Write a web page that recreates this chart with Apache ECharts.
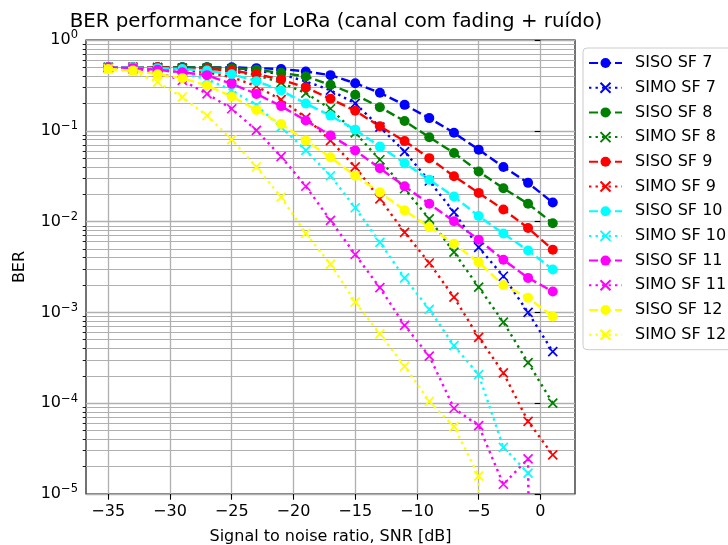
<!DOCTYPE html>
<html>
<head>
<meta charset="utf-8">
<script src="https://cdn.jsdelivr.net/npm/echarts@6/dist/echarts.min.js"></script>
<style>
  html, body { margin: 0; padding: 0; background: #fff; }
  #chart { width: 728px; height: 545px; }
</style>
</head>
<body>
<div id="chart"></div>
<script>
// SNR sample points [dB]
const snr = [-35, -33, -31, -29, -27, -25, -23, -21, -19, -17, -15, -13, -11, -9, -7, -5, -3, -1, 1];

// Bit error rates per spreading factor (0 = no errors counted)
const sisoSF7  = [0.50, 0.50, 0.50, 0.50, 0.50, 0.50, 0.49, 0.48, 0.45, 0.41, 0.334, 0.262, 0.193, 0.138, 0.095, 0.062, 0.040, 0.0267, 0.0162];
const simoSF7  = [0.50, 0.50, 0.50, 0.49, 0.49, 0.48, 0.46, 0.42, 0.35, 0.28, 0.20, 0.11, 0.059, 0.028, 0.0127, 0.0052, 0.0025, 0.0010, 0.00037];
const sisoSF8  = [0.50, 0.50, 0.50, 0.50, 0.50, 0.49, 0.47, 0.435, 0.396, 0.321, 0.249, 0.182, 0.128, 0.085, 0.057, 0.0356, 0.0233, 0.0157, 0.0096];
const simoSF8  = [0.50, 0.50, 0.49, 0.49, 0.48, 0.45, 0.41, 0.34, 0.26, 0.175, 0.095, 0.048, 0.023, 0.0107, 0.0046, 0.0019, 0.00078, 0.00028, 0.0001];
const sisoSF9  = [0.50, 0.50, 0.50, 0.49, 0.48, 0.46, 0.42, 0.367, 0.30, 0.225, 0.166, 0.112, 0.077, 0.050, 0.0316, 0.0207, 0.0136, 0.0085, 0.0049];
const simoSF9  = [0.50, 0.50, 0.49, 0.47, 0.44, 0.39, 0.31, 0.22, 0.14, 0.078, 0.040, 0.0178, 0.0076, 0.0035, 0.00147, 0.00053, 0.000216, 0.000063, 0.000027];
const sisoSF10 = [0.50, 0.50, 0.49, 0.48, 0.46, 0.42, 0.352, 0.278, 0.20, 0.147, 0.103, 0.067, 0.044, 0.0289, 0.0189, 0.0115, 0.0074, 0.0048, 0.00297];
const simoSF10 = [0.50, 0.49, 0.47, 0.43, 0.37, 0.28, 0.19, 0.11, 0.061, 0.032, 0.0142, 0.0059, 0.0024, 0.00108, 0.00043, 0.000206, 0.0000327, 0.000017, 0];
const sisoSF11 = [0.50, 0.49, 0.47, 0.44, 0.41, 0.329, 0.255, 0.187, 0.13, 0.089, 0.0607, 0.0387, 0.0245, 0.0157, 0.0101, 0.0063, 0.0038, 0.0024, 0.0017];
const simoSF11 = [0.49, 0.48, 0.44, 0.36, 0.255, 0.175, 0.101, 0.052, 0.0245, 0.0103, 0.00434, 0.00187, 0.00072, 0.00033, 0.000088, 0.0000565, 0.0000128, 0.0000244, 0];
const sisoSF12 = [0.48, 0.46, 0.42, 0.38, 0.315, 0.239, 0.17, 0.119, 0.078, 0.051, 0.032, 0.021, 0.0133, 0.0087, 0.0057, 0.00357, 0.0020, 0.00145, 0.0009];
const simoSF12 = [0.48, 0.45, 0.343, 0.235, 0.147, 0.080, 0.040, 0.0186, 0.0074, 0.0034, 0.0013, 0.00058, 0.000255, 0.000105, 0.0000553, 0.0000158, 0, 0, 0];

// Axis ticks
const xTicks = [-35, -30, -25, -20, -15, -10, -5, 0];
const yMajor = [1e-5, 1e-4, 1e-3, 1e-2, 1e-1, 1];
const yMinor = [];
for (let e = -5; e < 0; e++) for (let m = 2; m <= 9; m++) yMinor.push(m * Math.pow(10, e));

const FONT = 'DejaVu Sans';
const DASHED = [9.1, 3.9];
const DOTTED = [2.4, 4.1];
const CROSS = 'path://M0,0L10,10M10,0L0,10';

const curves = [
  { name: 'SISO SF 7',  data: sisoSF7,  color: '#0000ff', siso: true },
  { name: 'SIMO SF 7',  data: simoSF7,  color: '#0000ff', siso: false },
  { name: 'SISO SF 8',  data: sisoSF8,  color: '#008000', siso: true },
  { name: 'SIMO SF 8',  data: simoSF8,  color: '#008000', siso: false },
  { name: 'SISO SF 9',  data: sisoSF9,  color: '#ff0000', siso: true },
  { name: 'SIMO SF 9',  data: simoSF9,  color: '#ff0000', siso: false },
  { name: 'SISO SF 10', data: sisoSF10, color: '#00ffff', siso: true },
  { name: 'SIMO SF 10', data: simoSF10, color: '#00ffff', siso: false },
  { name: 'SISO SF 11', data: sisoSF11, color: '#ff00ff', siso: true },
  { name: 'SIMO SF 11', data: simoSF11, color: '#ff00ff', siso: false },
  { name: 'SISO SF 12', data: sisoSF12, color: '#ffff00', siso: true },
  { name: 'SIMO SF 12', data: simoSF12, color: '#ffff00', siso: false }
];

// zero BER has no place on a log axis: push it far below the plot so the curve drops off
const FLOOR = 1e-30;

const series = curves.map(c => ({
  name: c.name,
  type: 'line',
  yAxisIndex: 0,
  data: snr.map((x, i) => [x, c.data[i] > 0 ? c.data[i] : FLOOR]),
  clip: true,
  symbol: c.siso ? 'circle' : CROSS,
  symbolSize: c.siso ? 10 : 9,
  showSymbol: true,
  animation: false,
  lineStyle: { color: c.color, width: 2.4, type: c.siso ? DASHED : DOTTED, cap: 'butt' },
  itemStyle: c.siso
    ? { color: c.color, borderWidth: 0 }
    : { color: 'rgba(0,0,0,0)', borderColor: c.color, borderWidth: 1.7 },
  emphasis: { disabled: true }
}));

function powLabel(v) {
  const e = Math.round(Math.log10(v));
  return '10{s|' + (e < 0 ? '\u2212' + (-e) : String(e)) + '}';
}

const chart = echarts.init(document.getElementById('chart'), null, { renderer: 'canvas' });
chart.setOption({
  animation: false,
  backgroundColor: '#ffffff',
  title: {
    text: 'BER performance for LoRa (canal com fading + ruído)',
    left: 331, top: 7, textAlign: 'center',
    textStyle: { fontFamily: FONT, fontSize: 19.8, fontWeight: 'normal', color: '#000' }
  },
  grid: {
    left: 86, top: 40, width: 489, height: 454,
    containLabel: false, outerBoundsMode: 'none',
    show: true, borderColor: '#000', borderWidth: 1.1, backgroundColor: 'transparent'
  },
  legend: {
    orient: 'vertical',
    left: 583, top: 48,
    padding: [7, 16, 7, 5],
    itemWidth: 33, itemHeight: 12.5, itemGap: 8.7,
    backgroundColor: 'rgba(255,255,255,0.8)',
    borderColor: '#cccccc', borderWidth: 1, borderRadius: 4,
    textStyle: { fontFamily: FONT, fontSize: 16, color: '#000', lineHeight: 16, padding: [0, 0, 0, 8] },
    data: curves.map(c => c.name)
  },
  xAxis: {
    type: 'value',
    min: -36.8, max: 2.8,
    name: 'Signal to noise ratio, SNR [dB]',
    nameLocation: 'middle', nameGap: 35,
    nameTextStyle: { fontFamily: FONT, fontSize: 16, color: '#000' },
    axisLine: { show: false, onZero: false },
    axisTick: { show: true, length: 5.7, lineStyle: { color: '#000', width: 1.1 }, customValues: xTicks },
    axisLabel: {
      fontFamily: FONT, fontSize: 16, color: '#000', margin: 10,
      customValues: xTicks,
      formatter: v => (v < 0 ? '\u2212' + (-v) : String(v))
    },
    splitLine: { show: true, lineStyle: { color: '#b0b0b0', width: 1.3 } }
  },
  yAxis: [
    {
      type: 'log', logBase: 10, min: 1e-5, max: 1,
      position: 'left',
      name: 'BER', nameLocation: 'middle', nameGap: 58, nameRotate: 90,
      nameTextStyle: { fontFamily: FONT, fontSize: 16, color: '#000' },
      axisLine: { show: false },
      axisTick: { show: true, length: 5.7, lineStyle: { color: '#000', width: 1.1 }, customValues: yMajor },
      axisLabel: {
        fontFamily: FONT, fontSize: 16, color: '#000', margin: 8,
        customValues: yMajor,
        formatter: powLabel,
        rich: { s: { fontFamily: FONT, fontSize: 11.5, color: '#000', padding: [0, 0, 9, 0] } }
      },
      splitLine: { show: true, lineStyle: { color: '#b0b0b0', width: 1.3 } }
    },
    {
      // minor decades: 2..9 x 10^k grid lines and short ticks
      type: 'log', logBase: 10, min: 1e-5, max: 1,
      position: 'left', offset: 0,
      axisLine: { show: false },
      axisLabel: { show: false },
      axisTick: { show: true, length: 3.3, lineStyle: { color: '#000', width: 0.9 }, customValues: yMinor },
      splitLine: { show: true, lineStyle: { color: '#b0b0b0', width: 1.1 } }
    }
  ],
  series: series
});
</script>
</body>
</html>
